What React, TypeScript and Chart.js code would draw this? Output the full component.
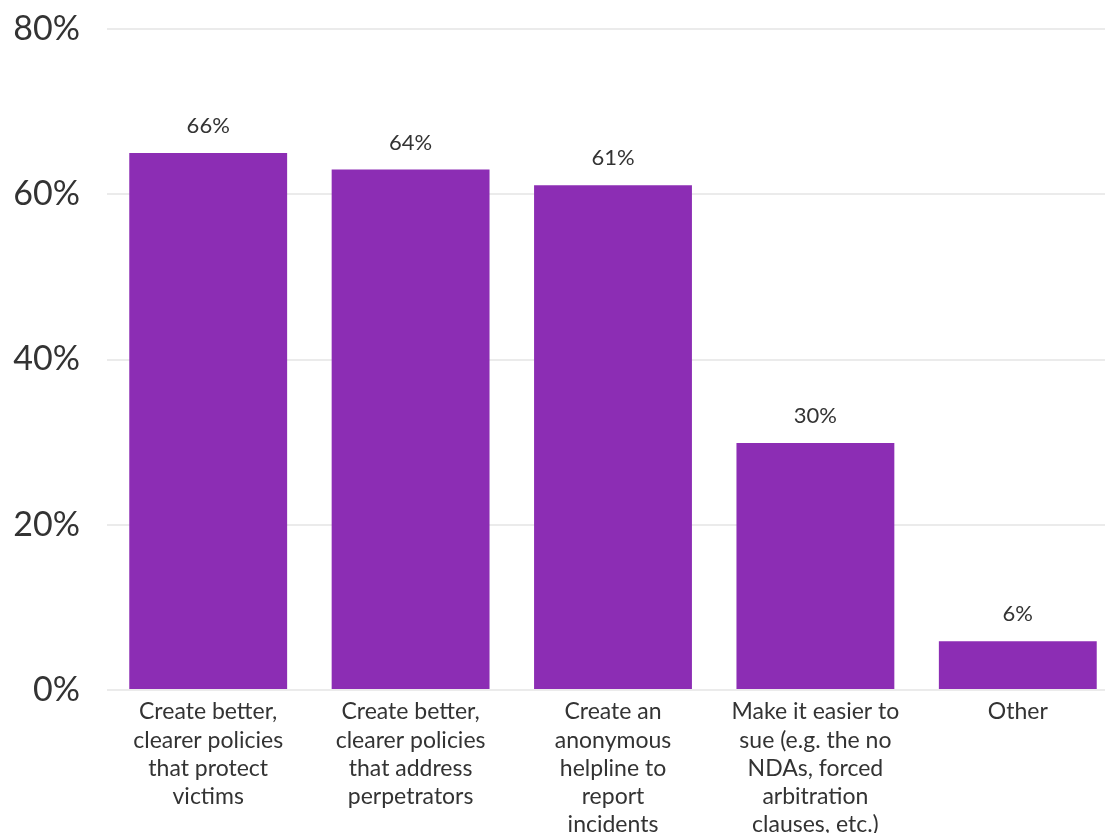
import React, { useEffect, useRef } from "react";
import { Chart, registerables } from "chart.js";

Chart.register(...registerables);

const categories: string[][] = [
  ["Create better,", "clearer policies", "that protect", "victims"],
  ["Create better,", "clearer policies", "that address", "perpetrators"],
  ["Create an", "anonymous", "helpline to", "report", "incidents"],
  ["Make it easier to", "sue (e.g. the no", "NDAs, forced", "arbitration", "clauses, etc.)"],
  ["Other"],
];
const values: number[] = [65, 63, 61.1, 29.9, 5.9];
const valueLabels: string[] = ["66%", "64%", "61%", "30%", "6%"];
const yTicks: number[] = [0, 20, 40, 60, 80];

const BAR_COLOR = "#8c2db4";
const TEXT_COLOR = "#333333";
const GRID_COLOR = "#ebebeb";
const FONT = "Lato";

const valueLabelPlugin = {
  id: "valueLabels",
  afterDatasetsDraw(chart: any) {
    const ctx = chart.ctx;
    const meta = chart.getDatasetMeta(0);
    ctx.save();
    ctx.font = `22px ${FONT}`;
    ctx.fillStyle = TEXT_COLOR;
    ctx.textAlign = "center";
    ctx.textBaseline = "middle";
    meta.data.forEach((bar: any, i: number) => {
      ctx.fillText(valueLabels[i], bar.x, bar.y - 27);
    });
    ctx.restore();
  },
};

export default function App() {
  const ref = useRef<HTMLCanvasElement | null>(null);
  useEffect(() => {
    if (!ref.current) return;
    const chart = new Chart(ref.current, {
      type: "bar",
      data: {
        labels: categories,
        datasets: [
          {
            data: values,
            backgroundColor: BAR_COLOR,
            borderWidth: 0,
            categoryPercentage: 1,
            barPercentage: 0.78,
          },
        ],
      },
      options: {
        responsive: false,
        animation: false,
        devicePixelRatio: 1,
        layout: { padding: { top: 29, left: 0, right: 0, bottom: 0 } },
        plugins: {
          legend: { display: false },
          tooltip: { enabled: false },
        },
        scales: {
          x: {
            grid: { display: false, drawTicks: false },
            border: { display: false },
            ticks: {
              padding: 8,
              maxRotation: 0,
              autoSkip: false,
              color: TEXT_COLOR,
              font: { family: FONT, size: 23, lineHeight: 1.22 },
            },
            afterFit: (scale: any) => {
              scale.height = 200;
              scale.paddingLeft = 0;
              scale.paddingRight = 0;
            },
          },
          y: {
            min: 0,
            max: 80,
            afterBuildTicks: (scale: any) => {
              scale.ticks = yTicks.map((v) => ({ value: v }));
            },
            grid: { color: GRID_COLOR, lineWidth: 2, drawTicks: false },
            border: { display: false },
            ticks: {
              padding: 27,
              color: TEXT_COLOR,
              font: { family: FONT, size: 34 },
              callback: (v: any) => `${v}%`,
            },
            afterFit: (scale: any) => {
              scale.width = 107;
              scale.paddingTop = 0;
              scale.paddingBottom = 0;
            },
          },
        },
      },
      plugins: [valueLabelPlugin],
    });
    return () => chart.destroy();
  }, []);

  return (
    <div
      style={{
        position: "fixed",
        left: 0,
        top: 0,
        width: 1105,
        height: 833,
        overflow: "hidden",
        background: "#ffffff",
      }}
    >
      <canvas ref={ref} width={1119} height={890} style={{ display: "block" }} />
    </div>
  );
}
